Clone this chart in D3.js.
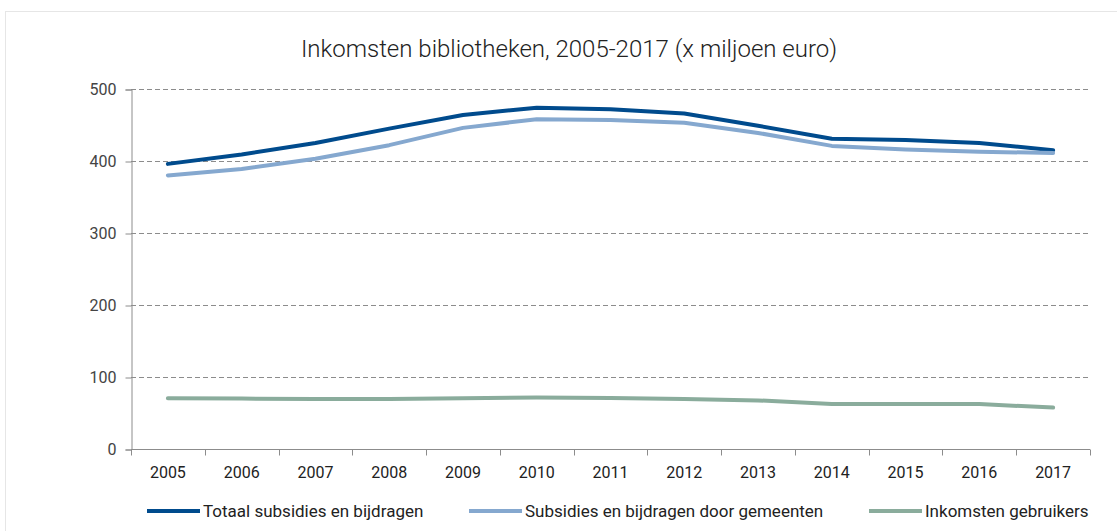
<!DOCTYPE html>
<html>
<head>
<meta charset="utf-8">
<script src="https://cdn.jsdelivr.net/npm/d3@7"></script>
<style>
  body { margin: 0; background: #fff; }
  svg { display: block; font-family: Roboto, sans-serif; }
</style>
</head>
<body>
<div id="chart"></div>
<script>
// Inkomsten bibliotheken 2005-2017, values in million euro
const years = ["2005","2006","2007","2008","2009","2010","2011","2012","2013","2014","2015","2016","2017"];
const totaal = [396, 409, 425, 445, 464, 474, 472, 466, 449, 431, 429, 425, 415];
const gemeenten = [380, 389, 403, 422, 446, 458, 457, 453, 439, 421, 416, 413, 411];
const gebruikers = [70.5, 70, 69.5, 69.5, 70.5, 71.5, 71, 69.5, 67.5, 62.5, 62.5, 62.5, 57.5];
const yTicks = [0, 100, 200, 300, 400, 500];
const seriesNames = ["Totaal subsidies en bijdragen", "Subsidies en bijdragen door gemeenten", "Inkomsten gebruikers"];
const seriesColors = ["#004b8d", "#85a8cf", "#8aac9c"];

const width = 1117, height = 531;
const margin = { top: 89, right: 27, bottom: 82, left: 131 };

const svg = d3.select("#chart")
  .append("svg")
  .attr("width", width)
  .attr("height", height);

// outer frame
svg.append("rect")
  .attr("x", 5.5)
  .attr("y", 11.5)
  .attr("width", width)
  .attr("height", height)
  .attr("fill", "none")
  .attr("stroke", "#e6e6e6");

// title
svg.append("text")
  .attr("x", 569)
  .attr("y", 57)
  .attr("text-anchor", "middle")
  .style("font-size", "24px")
  .style("font-weight", 300)
  .style("fill", "#222")
  .text("Inkomsten bibliotheken, 2005-2017 (x miljoen euro)");

const x = d3.scaleBand()
  .domain(years)
  .range([margin.left, width - margin.right]);

const y = d3.scaleLinear()
  .domain([0, 500])
  .range([height - margin.bottom, margin.top]);

// dashed gridlines
svg.append("g")
  .selectAll("line")
  .data(yTicks.filter(d => d > 0))
  .join("line")
  .attr("x1", margin.left)
  .attr("x2", width - margin.right)
  .attr("y1", d => Math.round(y(d)) + 0.5)
  .attr("y2", d => Math.round(y(d)) + 0.5)
  .attr("stroke", "#8c8c8c")
  .attr("stroke-dasharray", "5,3");

// y axis
const yAxis = svg.append("g")
  .attr("transform", `translate(${margin.left + 0.5},0.5)`)
  .call(d3.axisLeft(y).tickValues(yTicks).tickSize(6).tickPadding(9));
yAxis.select(".domain").attr("stroke", "#8c8c8c");
yAxis.selectAll(".tick line").attr("stroke", "#8c8c8c");
yAxis.selectAll("text")
  .style("font-size", "16px")
  .style("font-family", "Roboto, sans-serif")
  .attr("fill", "#444");

// x axis with ticks at category boundaries
const xAxisG = svg.append("g")
  .attr("transform", `translate(0,${Math.round(y(0)) + 0.5})`);
xAxisG.append("line")
  .attr("x1", margin.left)
  .attr("x2", width - margin.right)
  .attr("stroke", "#8c8c8c");
xAxisG.selectAll(".bound")
  .data(years.concat(["end"]))
  .join("line")
  .attr("class", "bound")
  .attr("x1", (d, i) => Math.round(margin.left + i * x.bandwidth()) + 0.5)
  .attr("x2", (d, i) => Math.round(margin.left + i * x.bandwidth()) + 0.5)
  .attr("y1", 0)
  .attr("y2", 6)
  .attr("stroke", "#8c8c8c");
xAxisG.selectAll(".lbl")
  .data(years)
  .join("text")
  .attr("class", "lbl")
  .attr("x", d => x(d) + x.bandwidth() / 2)
  .attr("y", 28)
  .attr("text-anchor", "middle")
  .style("font-size", "16px")
  .attr("fill", "#222")
  .text(d => d);

// lines
const line = d3.line()
  .x((d, i) => x(years[i]) + x.bandwidth() / 2)
  .y(d => y(d));

const allSeries = [totaal, gemeenten, gebruikers];
svg.append("g")
  .selectAll("path")
  .data(allSeries)
  .join("path")
  .attr("d", d => line(d))
  .attr("fill", "none")
  .attr("stroke", (d, i) => seriesColors[i])
  .attr("stroke-width", 4)
  .attr("stroke-linecap", "round")
  .attr("stroke-linejoin", "round");

// legend
const legendX = [147, 469, 869];
const legend = svg.append("g");
seriesNames.forEach((name, i) => {
  const g = legend.append("g").attr("transform", `translate(${legendX[i]},511)`);
  g.append("line")
    .attr("x1", 0)
    .attr("x2", 53)
    .attr("stroke", seriesColors[i])
    .attr("stroke-width", 4);
  g.append("text")
    .attr("x", 56)
    .attr("y", 6)
    .style("font-size", "17px")
    .attr("fill", "#222")
    .text(name);
});
</script>
</body>
</html>
